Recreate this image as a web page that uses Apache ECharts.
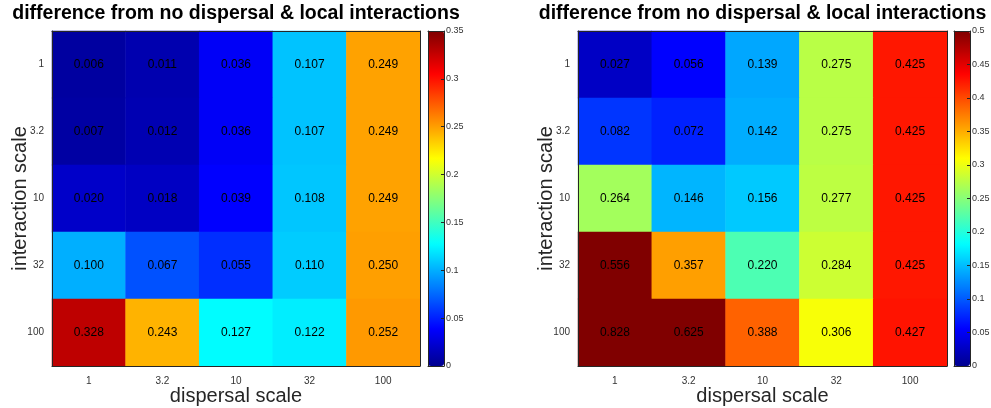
<!DOCTYPE html>
<html>
<head>
<meta charset="utf-8">
<script src="https://cdn.jsdelivr.net/npm/echarts@6/dist/echarts.min.js"></script>
<style>html,body{margin:0;padding:0;background:#fff}#c{width:991px;height:408px}</style>
</head>
<body>
<div id="c"></div>
<script>
const dispersal = ['1', '3.2', '10', '32', '100'];
const interaction = ['1', '3.2', '10', '32', '100'];
const titleText = 'difference from no dispersal & local interactions';
// rows = interaction scale (1 ... 100), columns = dispersal scale (1 ... 100)
const leftValues = [
  [0.006, 0.011, 0.036, 0.107, 0.249],
  [0.007, 0.012, 0.036, 0.107, 0.249],
  [0.020, 0.018, 0.039, 0.108, 0.249],
  [0.100, 0.067, 0.055, 0.110, 0.250],
  [0.328, 0.243, 0.127, 0.122, 0.252]
];
const rightValues = [
  [0.027, 0.056, 0.139, 0.275, 0.425],
  [0.082, 0.072, 0.142, 0.275, 0.425],
  [0.264, 0.146, 0.156, 0.277, 0.425],
  [0.556, 0.357, 0.220, 0.284, 0.425],
  [0.828, 0.625, 0.388, 0.306, 0.427]
];
const leftMax = 0.35, rightMax = 0.5;

function jet(n) {
  const out = [];
  const cl = v => Math.max(0, Math.min(1, v));
  for (let i = 0; i < n; i++) {
    const x = (i + 1) / n;
    const r = cl(1.5 - Math.abs(4 * x - 3));
    const g = cl(1.5 - Math.abs(4 * x - 2));
    const b = cl(1.5 - Math.abs(4 * x - 1));
    out.push('rgb(' + Math.round(r * 255) + ',' + Math.round(g * 255) + ',' + Math.round(b * 255) + ')');
  }
  return out;
}
const jetColors = jet(64);

function toData(m) {
  const d = [];
  m.forEach((row, yi) => row.forEach((v, xi) => d.push([xi, yi, v])));
  return d;
}

const axisColor = '#262626';
const plots = [
  {left: 52, width: 368, cbLeft: 428, values: leftValues, max: leftMax},
  {left: 578, width: 369, cbLeft: 954, values: rightValues, max: rightMax}
];
const gTop = 31, gHeight = 335;

const grid = [], xAxis = [], yAxis = [], series = [], visualMap = [], title = [];
plots.forEach((p, k) => {
  grid.push({left: p.left, top: gTop, width: p.width, height: gHeight, outerBoundsMode: 'none', containLabel: false});
  title.push({
    text: titleText, left: p.left + p.width / 2, top: 4, textAlign: 'center', padding: 0,
    textStyle: {fontFamily: 'Liberation Sans', fontWeight: 'bold', fontSize: 19.5, color: '#000'}
  });
  const gi = grid.length - 1;
  xAxis.push({
    type: 'category', gridIndex: gi, data: dispersal, position: 'bottom',
    axisLine: {lineStyle: {color: axisColor}}, splitArea: {show: false},
    axisTick: {inside: true, alignWithLabel: true, length: 4, lineStyle: {color: axisColor}},
    axisLabel: {fontSize: 10, color: '#333', margin: 10, fontFamily: 'Liberation Sans'},
    name: 'dispersal scale', nameLocation: 'middle', nameGap: 20, nameMoveOverlap: false,
    nameTextStyle: {fontSize: 20, color: '#262626', fontFamily: 'Liberation Sans'}, z: 5
  });
  xAxis.push({
    type: 'category', gridIndex: gi, data: dispersal, position: 'top',
    axisLine: {lineStyle: {color: axisColor}},
    axisTick: {inside: true, alignWithLabel: true, length: 4, lineStyle: {color: axisColor}},
    axisLabel: {show: false}, z: 5
  });
  yAxis.push({
    type: 'category', gridIndex: gi, data: interaction, inverse: true, position: 'left',
    axisLine: {lineStyle: {color: axisColor}},
    axisTick: {inside: true, alignWithLabel: true, length: 4, lineStyle: {color: axisColor}},
    axisLabel: {fontSize: 10, color: '#333', margin: 8, fontFamily: 'Liberation Sans'},
    name: 'interaction scale', nameLocation: 'middle', nameGap: 22, nameRotate: 90, nameMoveOverlap: false,
    nameTextStyle: {fontSize: 20, color: '#262626', fontFamily: 'Liberation Sans'}, z: 5
  });
  yAxis.push({
    type: 'category', gridIndex: gi, data: interaction, inverse: true, position: 'right',
    axisLine: {lineStyle: {color: axisColor}},
    axisTick: {inside: true, alignWithLabel: true, length: 4, lineStyle: {color: axisColor}},
    axisLabel: {show: false}, z: 5
  });
  series.push({
    type: 'heatmap', xAxisIndex: xAxis.length - 2, yAxisIndex: yAxis.length - 2,
    data: toData(p.values),
    label: {show: true, color: '#000', fontSize: 12, fontFamily: 'Liberation Sans',
      formatter: q => q.value[2].toFixed(3)},
    emphasis: {disabled: true}, itemStyle: {borderWidth: 0}
  });
  visualMap.push({
    type: 'continuous', min: 0, max: p.max, seriesIndex: series.length - 1,
    left: p.cbLeft, top: gTop, itemWidth: 16, itemHeight: gHeight, padding: 0,
    calculable: false, hoverLink: false, text: null, showLabel: false,
    inRange: {color: jetColors}
  });
});
// colorbar axes
plots.forEach((p, k) => {
  grid.push({left: p.cbLeft, top: gTop, width: 16, height: gHeight, outerBoundsMode: 'none', containLabel: false});
  const gi = grid.length - 1;
  xAxis.push({type: 'value', gridIndex: gi, min: 0, max: 1, position: 'bottom',
    axisLine: {show: true, onZero: false, lineStyle: {color: axisColor}}, axisTick: {show: false},
    axisLabel: {show: false}, splitLine: {show: false}, z: 10});
  xAxis.push({type: 'value', gridIndex: gi, min: 0, max: 1, position: 'top',
    axisLine: {show: true, onZero: false, lineStyle: {color: axisColor}}, axisTick: {show: false},
    axisLabel: {show: false}, splitLine: {show: false}, z: 10});
  yAxis.push({type: 'value', gridIndex: gi, min: 0, max: p.max, interval: 0.05, position: 'right',
    axisLine: {show: true, onZero: false, lineStyle: {color: axisColor}},
    axisTick: {show: true, inside: true, length: 3, lineStyle: {color: axisColor}},
    axisLabel: {fontSize: 9, color: '#333', margin: 2, fontFamily: 'Liberation Sans'},
    splitLine: {show: false}, z: 10});
  yAxis.push({type: 'value', gridIndex: gi, min: 0, max: p.max, interval: 0.05, position: 'left',
    axisLine: {show: true, onZero: false, lineStyle: {color: axisColor}},
    axisTick: {show: false}, axisLabel: {show: false}, splitLine: {show: false}, z: 10});
});

const chart = echarts.init(document.getElementById('c'), null, {renderer: 'canvas'});
chart.setOption({
  backgroundColor: '#fff', animation: false,
  title, grid, xAxis, yAxis, series, visualMap
});
</script>
</body>
</html>
